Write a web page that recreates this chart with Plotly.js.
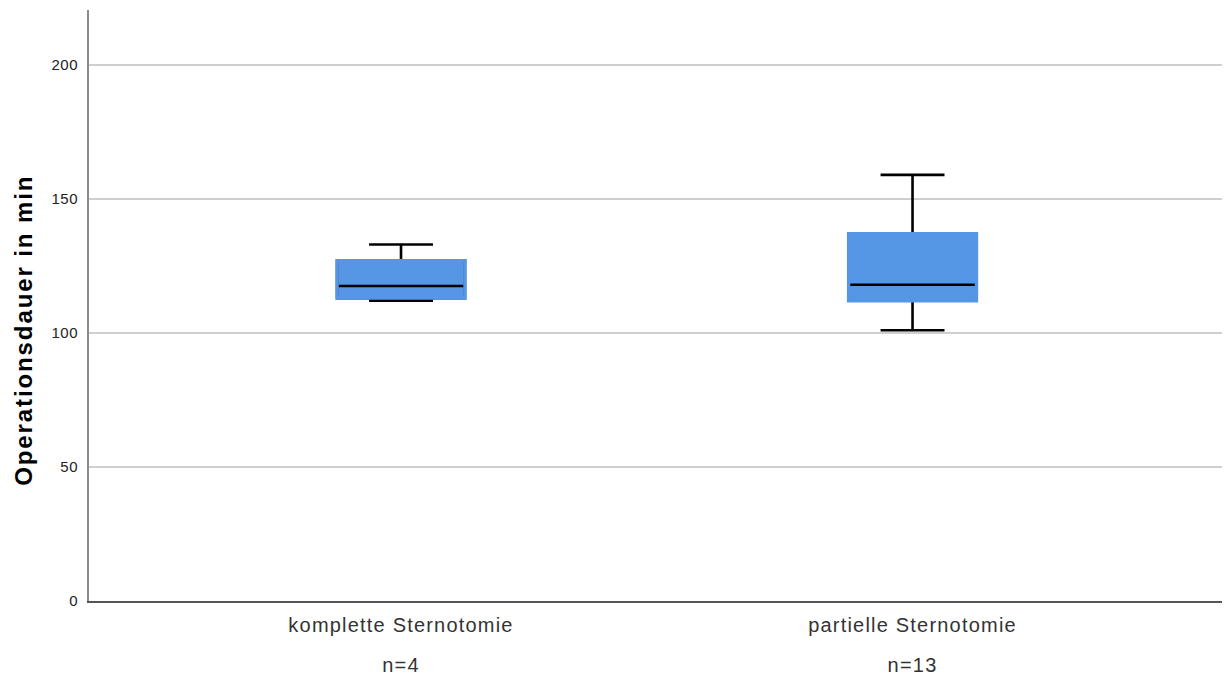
<!DOCTYPE html>
<html>
<head>
<meta charset="utf-8">
<script src="https://cdn.plot.ly/plotly-3.0.1.min.js"></script>
<style>
html,body{margin:0;padding:0;background:#fff;}
.xtick text{letter-spacing:1.2px;}
.ytick text{letter-spacing:0.5px;}
.annotation[data-index="0"] text{letter-spacing:1.9px;}
.annotation[data-index="1"] text, .annotation[data-index="2"] text{letter-spacing:1.2px;}
</style>
</head>
<body>
<div id="chart" style="width:1224px;height:679px;"></div>
<script>
const categories = ['komplette Sternotomie', 'partielle Sternotomie'];
const nLabels = ['n=4', 'n=13'];
const lowerFence = [112, 101];
const q1 = [113, 112];
const median = [117.5, 118];
const q3 = [127, 137];
const upperFence = [133, 159];
const yTicks = [0, 50, 100, 150, 200];

const boxFill = '#5596e5';

const mainBox = {
  type: 'box',
  x: categories,
  lowerfence: lowerFence,
  q1: q1,
  median: median,
  q3: q3,
  upperfence: upperFence,
  width: 0.25,
  whiskerwidth: 0.5,
  fillcolor: boxFill,
  line: {color: '#000000', width: 2.6},
  boxpoints: false,
  hoverinfo: 'skip',
  showlegend: false
};
// overlay that repaints the box outline in the fill colour
const outlineBox = {
  type: 'box',
  x: categories,
  lowerfence: q1,
  q1: q1,
  median: q1,
  q3: q3,
  upperfence: q3,
  width: 0.25,
  whiskerwidth: 0,
  fillcolor: 'rgba(0,0,0,0)',
  line: {color: boxFill, width: 3.4},
  boxpoints: false,
  hoverinfo: 'skip',
  showlegend: false
};

const annotations = [{
  text: 'Operationsdauer in min',
  xref: 'paper', yref: 'paper',
  x: -0.0583, y: 0.4585,
  xanchor: 'center', yanchor: 'middle',
  textangle: -90,
  showarrow: false,
  font: {family: 'Liberation Sans, Arial, sans-serif', size: 24, color: '#000', weight: 'bold'}
}];
categories.forEach((c, i) => {
  annotations.push({
    text: nLabels[i],
    xref: 'x', yref: 'paper',
    x: c, y: -0.108,
    xanchor: 'center', yanchor: 'middle',
    showarrow: false,
    font: {family: 'Liberation Sans, Arial, sans-serif', size: 20, color: '#333'}
  });
});

const layout = {
  width: 1224,
  height: 679,
  margin: {l: 89, r: 2, t: 10, b: 78},
  paper_bgcolor: '#ffffff',
  plot_bgcolor: '#ffffff',
  showlegend: false,
  boxmode: 'overlay',
  xaxis: {
    type: 'category',
    range: [-0.61, 1.605],
    showgrid: false,
    zeroline: false,
    showline: true,
    linecolor: '#555555',
    linewidth: 1.5,
    ticks: '',
    ticklabelstandoff: 5,
    tickfont: {family: 'Liberation Sans, Arial, sans-serif', size: 20, color: '#333'}
  },
  yaxis: {
    range: [0, 220.5],
    tickvals: yTicks,
    ticktext: yTicks.map(String),
    showgrid: true,
    gridcolor: '#cfcfcf',
    gridwidth: 1.5,
    zeroline: false,
    showline: true,
    linecolor: '#8a8a8a',
    linewidth: 2,
    ticks: '',
    ticklabelstandoff: 6,
    tickfont: {family: 'Liberation Sans, Arial, sans-serif', size: 15, color: '#222'}
  },
  annotations: annotations
};

Plotly.newPlot('chart', [mainBox, outlineBox], layout, {displayModeBar: false, staticPlot: true});
</script>
</body>
</html>
